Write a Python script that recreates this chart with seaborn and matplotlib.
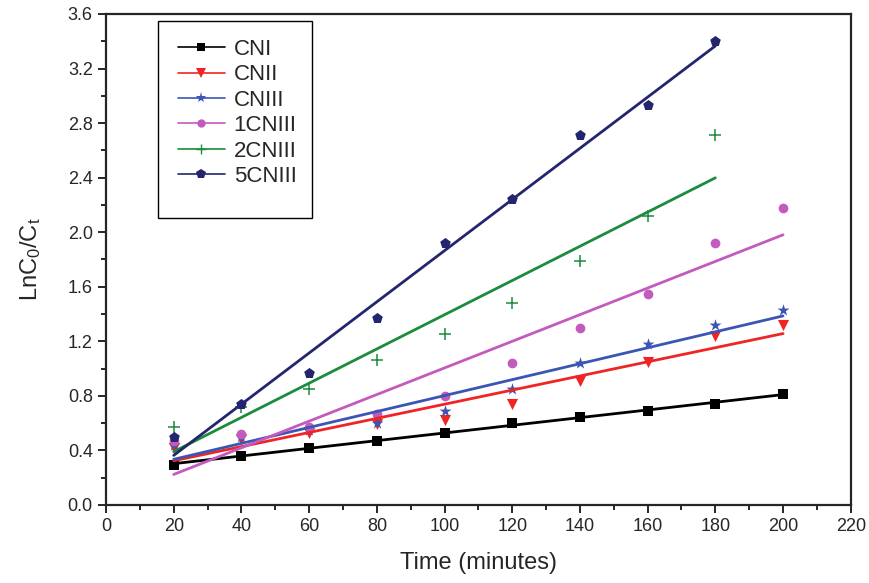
import numpy as np
import pandas as pd
import matplotlib
matplotlib.use("Agg")
import matplotlib.pyplot as plt
from matplotlib.lines import Line2D
from matplotlib.patches import Rectangle
from matplotlib.ticker import MultipleLocator
import seaborn as sns

sns.set_style("ticks")
plt.rcParams["font.family"] = ["Liberation Sans", "DejaVu Sans"]
plt.rcParams["mathtext.fontset"] = "custom"
plt.rcParams["mathtext.rm"] = "Liberation Sans"
plt.rcParams["mathtext.it"] = "Liberation Sans"

# time points (minutes)
time = [20, 40, 60, 80, 100, 120, 140, 160, 180, 200]

# LnC0/Ct
cni = [0.29, 0.36, 0.42, 0.47, 0.53, 0.60, 0.645, 0.69, 0.74, 0.81]
cnii = [0.42, 0.48, 0.53, 0.59, 0.62, 0.74, 0.91, 1.05, 1.24, 1.32]
cniii = [0.44, 0.50, 0.55, 0.60, 0.69, 0.85, 1.04, 1.18, 1.32, 1.43]
cniii_1 = [0.47, 0.52, 0.57, 0.67, 0.80, 1.04, 1.30, 1.55, 1.92, 2.18]
cniii_2 = [0.57, 0.72, 0.85, 1.06, 1.25, 1.48, 1.79, 2.12, 2.71]
cniii_5 = [0.50, 0.74, 0.97, 1.37, 1.92, 2.24, 2.71, 2.93, 3.40]

series = [
    ("CNI", cni, "#000000", "s", 7),
    ("CNII", cnii, "#f02424", "v", 8),
    ("CNIII", cniii, "#3a55b4", "*", 9),
    ("1CNIII", cniii_1, "#c25bbd", "o", 7),
    ("2CNIII", cniii_2, "#1b8b3c", "+", 8),
    ("5CNIII", cniii_5, "#23256f", "p", 8),
]

fig = plt.figure(figsize=(8.69, 5.83), dpi=100)
ax = fig.add_axes([0.122, 0.134, 0.857, 0.842])

handles = []
for name, vals, color, marker, ms in series:
    df = pd.DataFrame({"t": time[:len(vals)], "y": vals})
    sns.regplot(data=df, x="t", y="y", ax=ax, ci=None, truncate=True,
                marker=marker,
                scatter_kws={"color": color, "s": ms ** 2, "alpha": 1,
                             "linewidths": 1.1 if marker == "+" else 0},
                line_kws={"color": color, "lw": 2.0})
    handles.append(Line2D([], [], color=color, marker=marker, markersize=ms - 1,
                          lw=1.2, markeredgewidth=1.0 if marker == "+" else 0))

ax.set_xlim(0, 220)
ax.set_ylim(0, 3.6)
ax.xaxis.set_major_locator(MultipleLocator(20))
ax.xaxis.set_minor_locator(MultipleLocator(10))
ax.yaxis.set_major_locator(MultipleLocator(0.4))
ax.yaxis.set_minor_locator(MultipleLocator(0.2))
ax.set_yticklabels([f"{v:.1f}" for v in ax.get_yticks()])
ax.tick_params(which="major", direction="out", length=6, width=1.4, labelsize=13)
ax.tick_params(which="minor", direction="out", length=3.5, width=1.4)
for s in ax.spines.values():
    s.set_linewidth(1.6)

ax.set_xlabel("Time (minutes)", fontsize=17, labelpad=12)
ax.set_ylabel(r"LnC$_0$/C$_t$", fontsize=17, labelpad=18)

# legend box
ax.add_patch(Rectangle((0.07, 0.585), 0.207, 0.4, transform=ax.transAxes,
                       fill=False, edgecolor="black", lw=1.0, zorder=5))
ax.legend(handles, [s[0] for s in series], loc="upper left",
          bbox_to_anchor=(0.07, 0.99), frameon=False, fontsize=16,
          handlelength=2.1, labelspacing=0.2, handletextpad=0.4)

fig.savefig("out.png", dpi=100)
